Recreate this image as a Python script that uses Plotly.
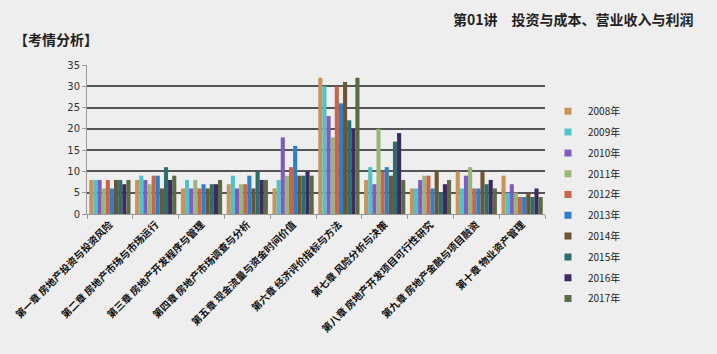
import plotly.graph_objects as go

categories = ["第一章 房地产投资与投资风险", "第二章 房地产市场与市场运行", "第三章 房地产开发程序与管理",
              "第四章 房地产市场调查与分析", "第五章 现金流量与资金时间价值", "第六章 经济评价指标与方法",
              "第七章 风险分析与决策", "第八章 房地产开发项目可行性研究", "第九章 房地产金融与项目融资",
              "第十章 物业资产管理"]
years = ["2008年", "2009年", "2010年", "2011年", "2012年", "2013年", "2014年", "2015年", "2016年", "2017年"]
values = {
    "2008年": [8, 8, 6, 7, 6, 32, 8, 6, 10, 9],
    "2009年": [8, 9, 8, 9, 8, 30, 11, 6, 6, 5],
    "2010年": [8, 8, 6, 6, 18, 23, 7, 8, 9, 7],
    "2011年": [6, 7, 8, 7, 9, 18, 20, 9, 11, 5],
    "2012年": [8, 9, 6, 7, 11, 30, 10, 9, 6, 4],
    "2013年": [6, 9, 7, 9, 16, 26, 11, 6, 6, 4],
    "2014年": [8, 6, 6, 6, 9, 31, 9, 10, 10, 5],
    "2015年": [8, 11, 7, 10, 9, 22, 17, 5, 7, 4],
    "2016年": [7, 8, 7, 8, 10, 20, 19, 7, 8, 6],
    "2017年": [8, 9, 8, 8, 9, 32, 8, 8, 6, 4],
}
colors = ["#c8945a", "#4fc3c8", "#7e5cc0", "#98b57a", "#c8664a",
          "#2f7fc8", "#6b5535", "#2e6e6a", "#3e2a60", "#5a6b45"]

fig = go.Figure()
for y, c in zip(years, colors):
    fig.add_trace(go.Bar(x=categories, y=values[y], name=y, marker_color=c,
                         marker_line_width=0, showlegend=False))
for y, c in zip(years, colors):
    fig.add_trace(go.Scatter(x=[None], y=[None], mode="markers", name=y, legendgroup=y,
                             marker=dict(symbol="square", size=7, color=c)))

bg = "#eeeeee"
fig.update_layout(
    width=717, height=354,
    margin=dict(l=85, r=172, t=65, b=140),
    paper_bgcolor=bg, plot_bgcolor=bg,
    barmode="group", bargap=0.1, bargroupgap=0,
    font=dict(family="Noto Sans CJK SC", color="#222"),
    showlegend=True,
    legend=dict(x=1.0 + 3 / 460, y=0.82 - 5 / 149, xanchor="left", yanchor="top",
                font=dict(size=10, color="#222"), tracegroupgap=1.8,
                bgcolor="rgba(0,0,0,0)", maxheight=300),
    xaxis=dict(showline=True, linecolor="#999", linewidth=1,
               ticks="outside", tickson="boundaries", ticklen=4, tickcolor="#999",
               tickangle=-45, tickfont=dict(size=10, color="#111"),
               tickvals=categories, ticktext=["<b>" + c + "</b>" for c in categories],
               showgrid=False),
    yaxis=dict(range=[0, 35], dtick=5, showgrid=True, gridcolor="#555", gridwidth=1.5,
               showline=True, linecolor="#999", linewidth=1,
               ticks="outside", ticklen=4, tickcolor="#999",
               tickfont=dict(size=10, color="#333", family="DejaVu Sans"), zeroline=False),
    annotations=[
        dict(text="<b>第01讲　投资与成本、营业收入与利润</b>", xref="paper", yref="paper",
             x=(697 - 85) / 460, xanchor="right", y=1 + (65 - 19) / 149, yanchor="middle",
             showarrow=False, font=dict(size=14, color="#222")),
        dict(text="<b>【考情分析】</b>", xref="paper", yref="paper",
             x=(10 - 85) / 460, xanchor="left", y=1 + (65 - 39) / 149, yanchor="middle",
             showarrow=False, font=dict(size=14, color="#222")),
    ],
)

fig.write_html("out.html")
